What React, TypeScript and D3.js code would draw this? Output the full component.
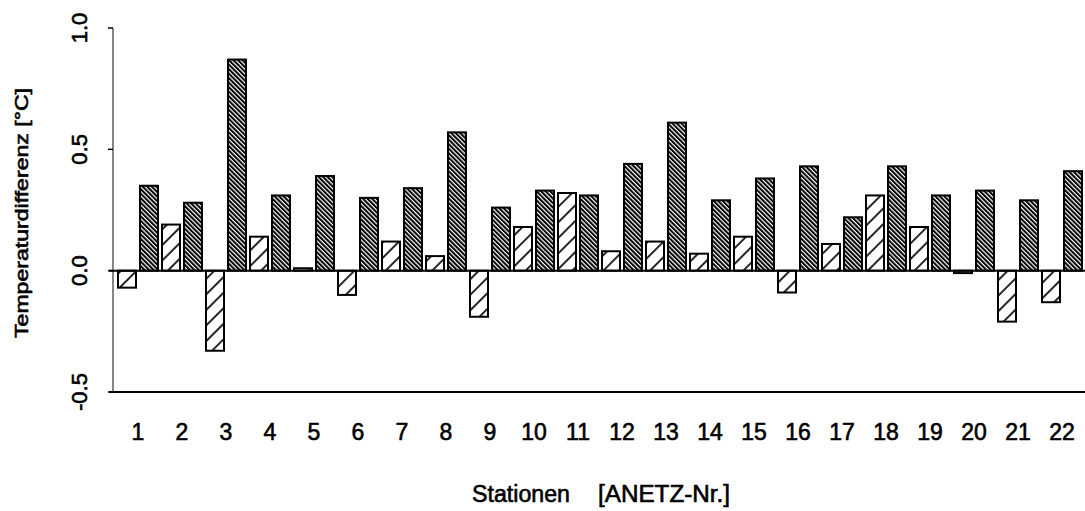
import { useEffect, useRef } from 'react';
import * as d3 from 'd3';

// Temperaturdifferenz pro Station (hell = schraffiert /, dunkel = dicht \)
const stations = ['1', '2', '3', '4', '5', '6', '7', '8', '9', '10', '11', '12', '13', '14', '15', '16', '17', '18', '19', '20', '21', '22'];
const lightValues = [-0.07, 0.19, -0.33, 0.14, 0.01, -0.1, 0.12, 0.06, -0.19, 0.18, 0.32, 0.08, 0.12, 0.07, 0.14, -0.09, 0.11, 0.31, 0.18, -0.01, -0.21, -0.13];
const darkValues = [0.35, 0.28, 0.87, 0.31, 0.39, 0.3, 0.34, 0.57, 0.26, 0.33, 0.31, 0.44, 0.61, 0.29, 0.38, 0.43, 0.22, 0.43, 0.31, 0.33, 0.29, 0.41];
const yTicks = [-0.5, 0, 0.5, 1.0];
const series = ['light', 'dark'];

const font = '"Liberation Sans", Arial, sans-serif';

export default function App() {
  const svgRef = useRef<SVGSVGElement>(null);

  useEffect(() => {
    if (!svgRef.current) return;
    const svg = d3.select(svgRef.current);
    svg.selectAll('*').remove();

    const width = 1085;
    const height = 511;
    const axisX = 113;

    svg.attr('width', width).attr('height', height);

    const defs = svg.append('defs');
    const dark = defs.append('pattern')
      .attr('id', 'hatch-dark')
      .attr('patternUnits', 'userSpaceOnUse')
      .attr('width', 3.2)
      .attr('height', 3.2)
      .attr('patternTransform', 'rotate(-45)');
    dark.append('rect').attr('width', 3.2).attr('height', 3.2).attr('fill', '#fff');
    dark.append('line')
      .attr('x1', 1).attr('y1', 0).attr('x2', 1).attr('y2', 3.2)
      .attr('stroke', '#000').attr('stroke-width', 2);

    const light = defs.append('pattern')
      .attr('id', 'hatch-light')
      .attr('patternUnits', 'userSpaceOnUse')
      .attr('width', 11)
      .attr('height', 11)
      .attr('patternTransform', 'rotate(45)');
    light.append('rect').attr('width', 11).attr('height', 11).attr('fill', '#fff');
    light.append('line')
      .attr('x1', 2).attr('y1', 0).attr('x2', 2).attr('y2', 11)
      .attr('stroke', '#000').attr('stroke-width', 1.7);

    const y = d3.scaleLinear().domain([-0.5, 1]).range([392, 28]);
    const x = d3.scaleBand<string>().domain(stations).range([116, 116 + 44 * stations.length]);
    const inner = d3.scaleBand<string>().domain(series).range([2, 42]).paddingInner(4 / 22);

    const rows = stations.flatMap((s, i) => [
      { station: s, key: 'light', value: lightValues[i] },
      { station: s, key: 'dark', value: darkValues[i] },
    ]);

    svg.append('g')
      .selectAll('rect')
      .data(rows)
      .enter()
      .append('rect')
      .attr('x', d => (x(d.station) ?? 0) + (inner(d.key) ?? 0))
      .attr('y', d => y(Math.max(0, d.value)))
      .attr('width', inner.bandwidth())
      .attr('height', d => Math.abs(y(d.value) - y(0)))
      .attr('fill', d => (d.key === 'dark' ? 'url(#hatch-dark)' : 'url(#hatch-light)'))
      .attr('stroke', '#000')
      .attr('stroke-width', 2);

    // Achsen
    svg.append('line')
      .attr('x1', axisX).attr('x2', axisX)
      .attr('y1', y(1)).attr('y2', y(-0.5))
      .attr('stroke', '#444').attr('stroke-width', 1.3);

    svg.append('g')
      .selectAll('line')
      .data(yTicks)
      .enter()
      .append('line')
      .attr('x1', axisX - 5).attr('x2', axisX)
      .attr('y1', d => y(d)).attr('y2', d => y(d))
      .attr('stroke', '#000').attr('stroke-width', 1.5);

    svg.append('line')
      .attr('x1', axisX - 4).attr('x2', width)
      .attr('y1', y(0)).attr('y2', y(0))
      .attr('stroke', '#000').attr('stroke-width', 2);

    svg.append('line')
      .attr('x1', axisX - 4).attr('x2', width)
      .attr('y1', y(-0.5)).attr('y2', y(-0.5))
      .attr('stroke', '#000').attr('stroke-width', 2);

    // Schrift: normal mit leichter Kontur, wirkt wie der gescannte Druck
    const textStyle = (sel: any, size: number) =>
      sel
        .style('font-family', font)
        .style('font-size', `${size}px`)
        .style('fill', '#000')
        .style('stroke', '#000')
        .style('stroke-width', '0.6px');

    textStyle(
      svg.append('g')
        .selectAll('text')
        .data(yTicks)
        .enter()
        .append('text')
        .attr('transform', d => `translate(87,${y(d)}) rotate(-90)`)
        .attr('text-anchor', 'middle')
        .text(d => d.toFixed(1)),
      22,
    );

    textStyle(
      svg.append('g')
        .selectAll('text')
        .data(stations)
        .enter()
        .append('text')
        .attr('x', d => (x(d) ?? 0) + x.bandwidth() / 2)
        .attr('y', 440)
        .attr('text-anchor', 'middle')
        .text(d => d),
      23,
    );

    textStyle(
      svg.append('text')
        .attr('transform', 'translate(28,213) rotate(-90)')
        .attr('text-anchor', 'middle')
        .attr('textLength', 250)
        .attr('lengthAdjust', 'spacingAndGlyphs')
        .text('Temperaturdifferenz [°C]'),
      18,
    );

    textStyle(
      svg.append('text')
        .attr('x', 472)
        .attr('y', 502)
        .attr('textLength', 98)
        .attr('lengthAdjust', 'spacingAndGlyphs')
        .text('Stationen'),
      23,
    );

    textStyle(
      svg.append('text')
        .attr('x', 598)
        .attr('y', 502)
        .attr('textLength', 132)
        .attr('lengthAdjust', 'spacingAndGlyphs')
        .text('[ANETZ-Nr.]'),
      23,
    );
  }, []);

  return (
    <svg
      ref={svgRef}
      style={{ position: 'absolute', left: 0, top: 0, background: '#fff', display: 'block' }}
    />
  );
}
